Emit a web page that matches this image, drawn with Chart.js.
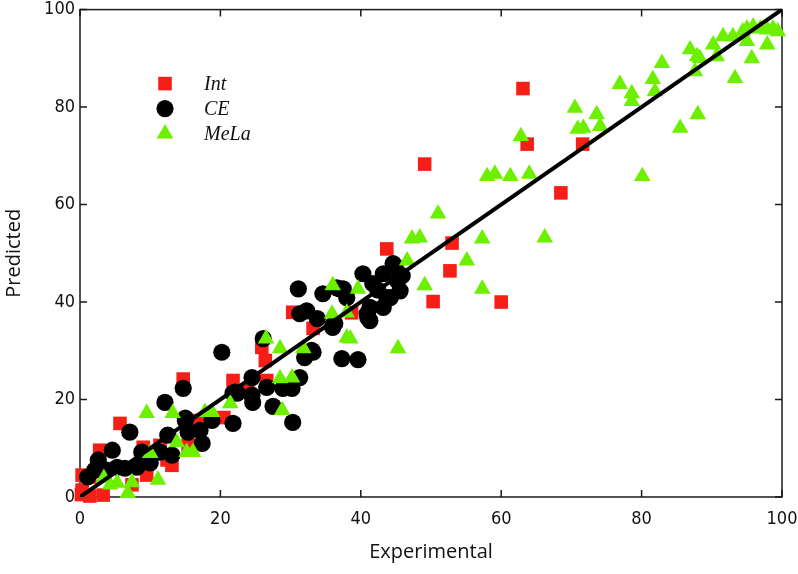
<!DOCTYPE html>
<html>
<head>
<meta charset="utf-8">
<script src="https://cdn.jsdelivr.net/npm/chart.js@4.4.0/dist/chart.umd.min.js"></script>
<style>
html, body { margin: 0; padding: 0; background: #fff; }
#wrap { width: 798px; height: 574px; }
</style>
</head>
<body>
<div id="wrap"><canvas id="chart"></canvas></div>
<script>
// values
const intX = [63.1, 63.7, 71.6, 68.5, 49.1, 53.0, 52.7, 60.0, 50.3, 43.7, 30.3, 33.2, 38.7, 25.9, 26.4, 21.8, 26.6, 23.9, 20.5, 16.9,
              14.7, 5.7, 2.8, 9.0, 11.4, 15.4, 13.1, 9.5, 7.4, 0.3, 0.3, 3.3, 1.4, 0.2, 12.4, 1.4];
const intY = [83.8, 72.4, 72.4, 62.4, 68.3, 52.1, 46.4, 40.0, 40.1, 50.9, 37.9, 34.6, 37.8, 30.7, 28.0, 23.9, 23.9, 21.9, 16.3, 15.7,
              24.2, 15.1, 9.6, 10.2, 10.6, 10.6, 6.5, 4.5, 2.5, 4.5, 1.4, 0.4, 0.2, 0.5, 7.6, 4.1];

const ceX = [12.1, 7.1, 4.6, 2.6, 1.1, 2.1, 3.8, 5.3, 6.4, 8.1, 8.8, 10.0, 11.4, 12.5, 13.1, 15.0, 15.4, 17.1, 17.4, 14.7,
             21.8, 18.8, 20.2, 24.5, 24.5, 22.4, 26.1, 31.3, 32.3, 33.8, 36.0, 37.3, 32.0, 33.2, 26.6, 28.9, 30.2, 31.3, 27.5, 30.3,
             24.6, 15.0, 21.8, 31.1, 34.6, 36.6, 37.5, 38.0, 40.3, 41.7, 43.2, 44.6, 45.2, 43.7, 40.9, 41.3, 36.0, 33.0, 39.6, 44.9,
             45.9, 45.6, 44.2, 43.2, 41.3, 41.0, 37.0, 36.3, 42.4, 22.1];
const ceY = [19.4, 13.3, 9.6, 7.6, 4.1, 5.5, 5.5, 6.1, 5.9, 6.1, 9.2, 7.0, 9.2, 12.7, 8.6, 15.7, 13.3, 13.7, 11.0, 22.3,
             21.3, 15.7, 29.7, 24.5, 20.9, 21.3, 32.5, 37.6, 38.2, 36.6, 35.2, 28.4, 28.6, 29.7, 22.5, 22.3, 22.3, 24.5, 18.6, 15.3,
             19.4, 16.2, 15.1, 42.7, 41.7, 42.9, 42.7, 40.9, 45.8, 43.8, 45.8, 47.9, 44.4, 40.9, 37.6, 36.2, 34.8, 30.1, 28.2, 47.4,
             45.4, 42.3, 40.9, 38.9, 38.9, 36.8, 42.7, 35.6, 42.5, 21.5];

const melaX = [9.5, 13.2, 13.8, 15.2, 16.1, 10.0, 11.1, 5.3, 4.3, 6.8, 17.8, 18.8, 21.4, 26.5, 28.5, 31.8, 35.9, 38.0, 28.5, 30.2,
               28.8, 46.6, 36.0, 39.6, 38.0, 38.5, 45.3, 49.1, 51.0, 47.3, 48.4, 57.3, 55.1, 57.3, 58.0, 59.1, 61.3, 64.0, 62.8, 70.5,
               73.6, 70.9, 71.7, 74.1, 76.9, 78.6, 78.6, 80.1, 66.2, 82.9, 81.6, 81.9, 86.9, 87.9, 88.3, 87.6, 90.2, 91.6, 90.7, 93.0,
               94.4, 95.0, 95.9, 96.9, 97.9, 98.7, 99.4, 95.0, 97.9, 95.7, 93.3, 88.0, 85.5, 3.4, 7.4];
const melaY = [17.2, 17.2, 11.2, 9.2, 9.2, 9.0, 3.5, 2.9, 2.5, 0.8, 17.4, 17.4, 19.2, 32.5, 30.5, 30.5, 37.6, 32.7, 24.3, 24.5,
               17.8, 48.5, 43.4, 42.7, 37.8, 32.5, 30.5, 43.4, 58.1, 53.0, 53.2, 53.0, 48.5, 42.7, 65.8, 66.3, 65.8, 66.3, 74.0, 79.8,
               78.5, 75.5, 75.7, 76.1, 84.7, 82.8, 81.2, 65.8, 53.2, 89.0, 85.7, 83.2, 91.8, 90.4, 90.0, 87.3, 92.8, 94.5, 90.4, 94.5,
               95.5, 96.1, 96.5, 96.1, 95.9, 96.1, 95.5, 93.5, 92.8, 90.0, 85.9, 78.5, 75.7, 3.9, 3.0];

const fitX = [0, 100];
const fitY = [0, 100];

const axisTicks = [0, 20, 40, 60, 80, 100];
const legendOrder = ['Int', 'CE', 'MeLa'];

const toPoints = (xs, ys) => xs.map((x, i) => ({ x: x, y: ys[i] }));

const RED = '#f51f17';
const GREEN = '#6cf000';

// box around the plot with inward ticks on all four sides
const frame = {
  id: 'frame',
  beforeDatasetsDraw(chart) {
    const { ctx, chartArea: a, scales } = chart;
    ctx.save();
    ctx.strokeStyle = '#1a1a1a';
    ctx.lineWidth = 1.5;
    ctx.strokeRect(a.left, a.top, a.right - a.left, a.bottom - a.top);
    ctx.beginPath();
    axisTicks.forEach(v => {
      const px = scales.x.getPixelForValue(v);
      ctx.moveTo(px, a.bottom); ctx.lineTo(px, a.bottom - 7);
      ctx.moveTo(px, a.top); ctx.lineTo(px, a.top + 7);
      const py = scales.y.getPixelForValue(v);
      ctx.moveTo(a.left, py); ctx.lineTo(a.left + 7, py);
      ctx.moveTo(a.right, py); ctx.lineTo(a.right - 7, py);
    });
    ctx.stroke();
    ctx.restore();
  }
};

// legend sits inside the plot, upper left
const innerLegend = {
  id: 'innerLegend',
  afterDraw(chart) {
    const { ctx, chartArea: a } = chart;
    const sets = legendOrder.map(n => chart.data.datasets.find(d => d.label === n));
    ctx.save();
    ctx.font = 'italic 20px "Liberation Serif", serif';
    ctx.textBaseline = 'middle';
    sets.forEach((d, i) => {
      const y = a.top + 74 + i * 25;
      ctx.fillStyle = d.backgroundColor;
      Chart.helpers.drawPoint(ctx, { pointStyle: d.pointStyle, radius: d.pointRadius, rotation: 0, borderWidth: 0 }, a.left + 85, y);
      ctx.fillStyle = '#111';
      ctx.fillText(d.label, a.left + 124, y + 1);
    });
    ctx.restore();
  }
};

const canvas = document.getElementById('chart');
let chart = new Chart(canvas, {
  type: 'scatter',
  data: {
    datasets: [{
      type: 'line',
      label: 'fit',
      data: toPoints(fitX, fitY),
      borderColor: '#000',
      borderWidth: 4,
      pointRadius: 0,
      fill: false,
      order: 0
    }, {
      label: 'MeLa',
      data: toPoints(melaX, melaY),
      pointStyle: 'triangle',
      pointRadius: 9.6,
      backgroundColor: GREEN,
      borderWidth: 0,
      clip: false,
      order: 1
    }, {
      label: 'CE',
      data: toPoints(ceX, ceY),
      pointStyle: 'circle',
      pointRadius: 8.6,
      backgroundColor: '#000',
      borderWidth: 0,
      clip: false,
      order: 2
    }, {
      label: 'Int',
      data: toPoints(intX, intY),
      pointStyle: 'rect',
      pointRadius: 9.6,
      backgroundColor: RED,
      borderWidth: 0,
      clip: false,
      order: 3
    }]
  },
  options: {
    responsive: true,
    maintainAspectRatio: false,
    animation: false,
    layout: { padding: { left: 0, right: 16, top: 8, bottom: 0 } },
    plugins: {
      legend: { display: false },
      tooltip: { enabled: false }
    },
    scales: {
      x: {
        type: 'linear',
        min: 0, max: 100,
        grid: { display: false, drawTicks: false },
        border: { display: false },
        ticks: {
          stepSize: 20, padding: 12, color: '#111',
          font: { family: '"Liberation Sans Narrow", "DejaVu Sans Condensed", sans-serif', size: 18 }
        },
        title: {
          display: true, text: 'Experimental', color: '#111',
          font: { family: '"Open Sans", sans-serif', size: 20 },
          padding: { top: 0, bottom: 10 }
        },
        afterFit(s) { s.height = 77; s.paddingLeft = 0; s.paddingRight = 0; }
      },
      y: {
        type: 'linear',
        min: 0, max: 100,
        grid: { display: false, drawTicks: false },
        border: { display: false },
        ticks: {
          stepSize: 20, padding: 5, color: '#111',
          font: { family: '"Liberation Sans Narrow", "DejaVu Sans Condensed", sans-serif', size: 18 }
        },
        title: {
          display: true, text: 'Predicted', color: '#111',
          font: { family: '"Open Sans", sans-serif', size: 20 },
          padding: { top: 2, bottom: 0 }
        },
        afterFit(s) { s.width = 80; s.paddingTop = 0; s.paddingBottom = 0; }
      }
    }
  },
  plugins: [frame, innerLegend]
});
</script>
</body>
</html>
